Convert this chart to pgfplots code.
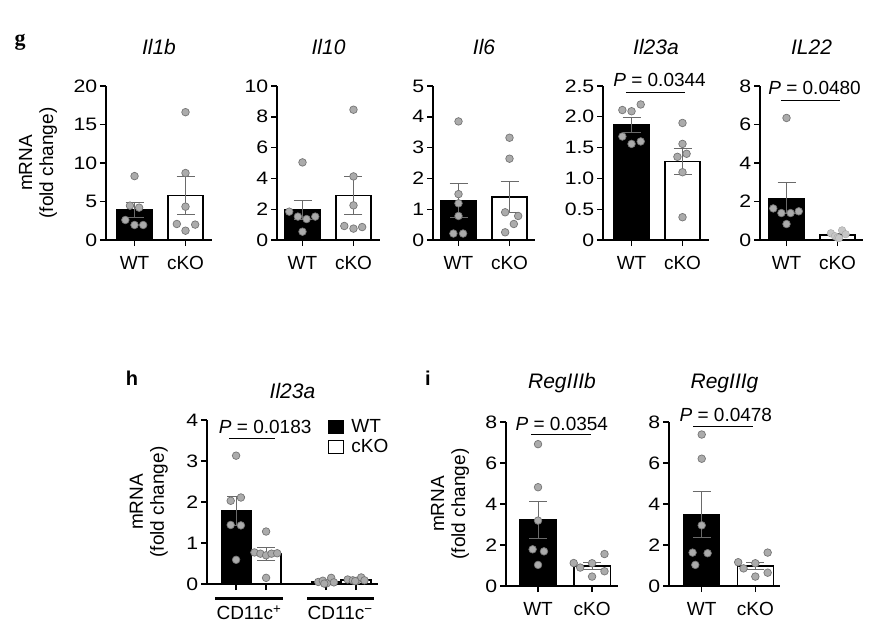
\documentclass[border=0pt]{standalone}
\usepackage{pgfplots}
\pgfplotsset{compat=1.18}
\usepackage{fontspec}
\setmainfont{Liberation Sans}
\newfontfamily\serifb{Liberation Serif}
\newfontfamily\tickfont[FakeStretch=1.18]{Liberation Sans}
\definecolor{dotfill}{HTML}{ABABAB}
\definecolor{dotedge}{HTML}{757575}
\definecolor{errcol}{HTML}{6A6A6A}
\newcommand\fs{\fontsize{19}{21}\selectfont}
\newcommand\ft{\fontsize{21}{22}\selectfont\itshape}
\pgfplotsset{
  panel/.style={
    scale only axis, anchor=south west,
    axis x line*=bottom, axis y line*=left,
    axis line style={line width=1.6pt, black},
    tick style={line width=1.4pt, black},
    major tick length=6pt, tick align=outside,
    ymin=0, clip=false,
    xtick={0,1}, xticklabels={WT,cKO},
    xticklabel style={font=\fs, yshift=-7pt},
    yticklabel style={font=\tickfont\fontsize{18}{20}\selectfont, inner sep=2.5pt},
    /pgf/number format/assume math mode=true,
    title style={font=\ft, anchor=center, at={(rel axis cs:0.5,1)}, yshift=33pt},
    ylabel style={font=\fs, align=center, anchor=center, rotate=0},
  },
  dots/.style={only marks, mark=*, mark size=3.8pt, forget plot,
    mark options={fill=dotfill, draw=dotedge, line width=0.7pt}},
  errb/.style={draw=none, mark=none, forget plot,
    error bars/.cd, y dir=both, y explicit,
    error bar style={draw=errcol, line width=0.9pt},
    error mark options={rotate=90, draw=errcol, line width=0.9pt, mark size=9pt}},
  wtbar/.style={ybar, bar width=#1, fill=black, draw=black, line width=1pt},
  kobar/.style={ybar, bar width=#1, fill=white, draw=black, line width=1.3pt},
}
\begin{document}
\begin{tikzpicture}[x=1pt,y=1pt]
\useasboundingbox (0,0) rectangle (877,633);
\node[font=\serifb\bfseries\fontsize{22}{22}\selectfont] at (20,591) {g};
\node[font=\bfseries\fontsize{20}{20}\selectfont] at (132,255) {h};
\node[font=\bfseries\fontsize{20}{20}\selectfont] at (428,255) {i};

% ---------- Il1b
\begin{axis}[panel, at={(106pt,393pt)}, width=106pt, height=154pt,
  xmin=-0.56, xmax=1.52, ymax=20, ytick={0,5,10,15,20}, title={Il1b},
  ylabel={mRNA\\(fold change)}, ylabel style={at={(rel axis cs:-0.64,0.5)}}]
\addplot[wtbar=0.69] coordinates {(0,3.92)};
\addplot[kobar=0.69] coordinates {(1,5.8)};
\addplot[errb] coordinates {(0,3.92) +- (0,0.98) (1,5.8) +- (0,2.5)};
\addplot[dots] coordinates {(0,8.3) (-0.09,4.46) (0.09,4.2) (-0.18,2.6) (0,1.95) (0.17,1.95)
  (1,16.6) (1,8.7) (1,4.33) (0.83,2.08) (1,1.21) (1.19,2.0)};
\end{axis}

% ---------- Il10
\begin{axis}[panel, at={(277pt,393pt)}, width=103pt, height=154pt,
  xmin=-0.5, xmax=1.52, ymax=10, ytick={0,2,4,6,8,10}, title={Il10}]
\addplot[wtbar=0.69] coordinates {(0,1.95)};
\addplot[kobar=0.69] coordinates {(1,2.87)};
\addplot[errb] coordinates {(0,1.95) +- (0,0.63) (1,2.87) +- (0,1.23)};
\addplot[dots] coordinates {(0,5.04) (-0.26,1.84) (-0.09,1.52) (0.08,1.36) (0.25,1.52) (0,0.54)
  (1,8.46) (1,4.13) (1,2.25) (0.82,0.91) (1,0.74) (1.17,0.84)};
\end{axis}

% ---------- Il6
\begin{axis}[panel, at={(433pt,393pt)}, width=102pt, height=154pt,
  xmin=-0.5, xmax=1.5, ymax=5, ytick={0,1,2,3,4,5}, title={Il6}]
\addplot[wtbar=0.69] coordinates {(0,1.29)};
\addplot[kobar=0.69] coordinates {(1,1.40)};
\addplot[errb] coordinates {(0,1.29) +- (0,0.55) (1,1.40) +- (0,0.5)};
\addplot[dots] coordinates {(0,3.85) (0,1.49) (0,1.19) (0,0.78) (-0.1,0.21) (0.09,0.21)
  (1,3.32) (1,2.64) (0.915,0.9) (1.17,0.78) (1.085,0.52) (0.915,0.25)};
\end{axis}

% ---------- Il23a
\begin{axis}[panel, at={(603pt,393pt)}, width=106pt, height=154pt,
  xmin=-0.56, xmax=1.52, ymax=2.5, ytick={0,0.5,1,1.5,2,2.5},
  yticklabels={0,0.5,1.0,1.5,2.0,2.5}, title={Il23a}]
\addplot[wtbar=0.69] coordinates {(0,1.87)};
\addplot[kobar=0.69] coordinates {(1,1.28)};
\addplot[errb] coordinates {(0,1.87) +- (0,0.12) (1,1.28) +- (0,0.21)};
\addplot[dots] coordinates {(-0.18,2.11) (0,2.09) (0.18,2.20) (-0.18,1.68) (0,1.56) (0.18,1.60)
  (1,1.90) (1,1.56) (0.9,1.35) (1.08,1.40) (1,1.10) (1,0.37)};
\draw[line width=1pt] (axis cs:-0.11,2.39) -- (axis cs:1.05,2.39);
\node[font=\fs] at (axis cs:0.55,2.6) {\textit{P} = 0.0344};
\end{axis}

% ---------- IL22
\begin{axis}[panel, at={(760pt,393pt)}, width=103pt, height=154pt,
  xmin=-0.52, xmax=1.5, ymax=8, ytick={0,2,4,6,8}, title={IL22}]
\addplot[wtbar=0.69] coordinates {(0,2.18)};
\addplot[kobar=0.69] coordinates {(1,0.26)};
\addplot[errb] coordinates {(0,2.18) +- (0,0.81) (1,0.26) +- (0,0.06)};
\addplot[dots] coordinates {(0,6.34) (-0.26,1.64) (-0.1,1.40) (0.08,1.40) (0.24,1.49) (0,0.83)};
\addplot[dots, mark options={fill=gray!45, draw=gray!70}] coordinates {(0.87,0.35) (0.95,0.2) (1.0,0.12) (1.09,0.5) (1.16,0.3) (1.03,0.1)};
\draw[line width=1pt] (axis cs:-0.11,7.27) -- (axis cs:1.05,7.27);
\node[font=\fs] at (axis cs:0.55,7.9) {\textit{P} = 0.0480};
\end{axis}

% ---------- h: Il23a
\begin{axis}[panel, at={(207pt,49pt)}, width=171pt, height=164pt,
  xmin=-0.97, xmax=4.73, ymax=4, ytick={0,1,2,3,4}, xtick={0,1,3,4}, xticklabels={},
  title={Il23a}, title style={yshift=-10pt},
  ylabel={mRNA\\(fold change)}, ylabel style={at={(rel axis cs:-0.34,0.5)}},
  legend style={draw=none, fill=none, at={(rel axis cs:0.708,1.015)}, anchor=north west,
    font=\fs, inner sep=0pt, row sep=1pt, legend cell align=left,
    /tikz/every odd column/.append style={column sep=5pt}},
  legend image code/.code={\draw[#1, line width=1.2pt] (0pt,-6.5pt) rectangle (15pt,6.5pt);}]
\addplot[wtbar=1.0] coordinates {(0,1.79) (3,0.058)};
\addlegendentry{WT}
\addplot[kobar=1.0] coordinates {(1,0.73) (4,0.10)};
\addlegendentry{cKO}
\addplot[errb] coordinates {(0,1.79) +- (0,0.35) (1,0.73) +- (0,0.15) (3,0.058) +- (0,0.02) (4,0.10) +- (0,0.015)};
\addplot[dots] coordinates {(0,3.13) (-0.18,2.03) (0.16,2.11) (-0.18,1.44) (0.16,1.43) (0,0.59)
  (1,1.28) (0.61,0.77) (0.81,0.74) (1,0.70) (1.18,0.74) (1.37,0.75) (1,0.15)
  (2.74,0.05) (2.89,0.08) (3.03,0.02) (3.17,0.15) (3.26,0.04) (2.94,0.01)
  (3.72,0.11) (3.89,0.09) (4.03,0.08) (4.17,0.16) (4.28,0.09) (3.97,0.07)};
\draw[line width=1pt] (axis cs:-0.23,3.54) -- (axis cs:1.30,3.54);
\node[font=\fs] at (axis cs:0.97,3.82) {\textit{P} = 0.0183};
\draw[line width=3pt] ([yshift=-14pt]axis cs:-0.7,0) -- ([yshift=-14pt]axis cs:1.57,0);
\draw[line width=3pt] ([yshift=-14pt]axis cs:2.37,0) -- ([yshift=-14pt]axis cs:4.6,0);
\node[font=\fs] at ([yshift=-29pt]axis cs:0.43,0) {CD11c\textsuperscript{+}};
\node[font=\fs] at ([yshift=-29pt]axis cs:3.47,0) {CD11c\textsuperscript{−}};
\end{axis}

% ---------- i: RegIIIb
\begin{axis}[panel, at={(506pt,47pt)}, width=112pt, height=164pt,
  xmin=-0.593, xmax=1.48, ymax=8, ytick={0,2,4,6,8}, title={RegIIIb},
  ylabel={mRNA\\(fold change)}, ylabel style={at={(rel axis cs:-0.5,0.5)}}]
\addplot[wtbar=0.67] coordinates {(0,3.24)};
\addplot[kobar=0.67] coordinates {(1,0.98)};
\addplot[errb] coordinates {(0,3.24) +- (0,0.9) (1,0.98) +- (0,0.15)};
\addplot[dots] coordinates {(0,6.92) (0,4.82) (0,3.19) (-0.1,1.79) (0.11,1.69) (0,1.03)
  (0.66,1.12) (0.78,0.90) (1,1.11) (1.23,1.56) (1,0.46) (1.23,0.72)};
\draw[line width=1pt] (axis cs:-0.13,7.41) -- (axis cs:0.98,7.41);
\node[font=\fs] at (axis cs:0.44,7.9) {\textit{P} = 0.0354};
\end{axis}

% ---------- i: RegIIIg
\begin{axis}[panel, at={(669pt,47pt)}, width=111pt, height=164pt,
  xmin=-0.61, xmax=1.46, ymax=8, ytick={0,2,4,6,8}, title={RegIIIg}]
\addplot[wtbar=0.67] coordinates {(0,3.47)};
\addplot[kobar=0.67] coordinates {(1,0.98)};
\addplot[errb] coordinates {(0,3.47) +- (0,1.12) (1,0.98) +- (0,0.15)};
\addplot[dots] coordinates {(0,7.39) (0,6.21) (0,2.96) (-0.17,1.63) (0.11,1.60) (-0.12,1.03)
  (0.68,1.16) (0.78,0.86) (1,1.11) (1.23,1.63) (1,0.46) (1.23,0.65)};
\draw[line width=1pt] (axis cs:-0.16,7.80) -- (axis cs:0.96,7.80);
\node[font=\fs] at (axis cs:0.45,8.34) {\textit{P} = 0.0478};
\end{axis}
\end{tikzpicture}
\end{document}
